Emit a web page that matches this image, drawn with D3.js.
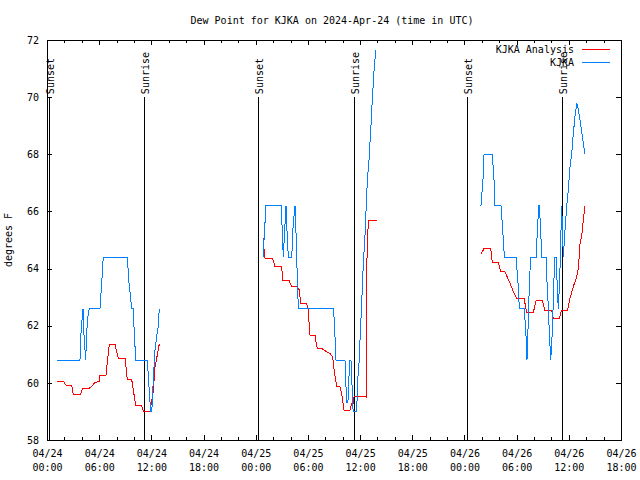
<!DOCTYPE html>
<html>
<head>
<meta charset="utf-8">
<script src="https://cdn.jsdelivr.net/npm/d3@7"></script>
<style>
  html, body { margin: 0; padding: 0; background: #fff; }
  svg { display: block; }
  text { font-family: "DejaVu Sans Mono", "Liberation Mono", monospace; font-size: 10px; fill: #000; }
</style>
</head>
<body>
<svg id="chart" width="640" height="480"></svg>
<script>
// ---- DATA (hours since 2024-04-24 00:00 UTC, dew point °F) ----
const titleText = "Dew Point for KJKA on 2024-Apr-24 (time in UTC)";
const yLabelText = "degrees F";
const seriesNames = ["KJKA Analysis", "KJKA"];
const yTickValues = [58, 60, 62, 64, 66, 68, 70, 72];
const xMajorHours = [0, 6, 12, 18, 24, 30, 36, 42, 48, 54, 60, 66];
const xMinorHours = [2, 4, 8, 10, 14, 16, 20, 22, 26, 28, 32, 34, 38, 40, 44, 46, 50, 52, 56, 58, 62, 64];
const sunEventNames = ["Sunset", "Sunrise", "Sunset", "Sunrise", "Sunset", "Sunrise"];
const sunEventHours = [0.26, 11.19, 24.3, 35.26, 48.29, 59.21];

const analysisDay1 = [[1.12,60.06],[1.87,60.06],[2.18,59.92],[2.84,59.92],[3.02,59.61],[3.87,59.61],[4.1,59.81],[4.86,59.81],[5.2,59.9],[5.52,60.02],[6.01,60.04],[6.09,60.27],[6.78,60.27],[7.0,60.9],[7.16,61.35],[7.82,61.35],[8.2,60.86],[8.97,60.86],[9.1,60.5],[9.23,60.12],[9.74,60.12],[9.9,59.8],[10.2,59.2],[10.89,59.2],[11.07,59.01],[11.84,59.01],[12.22,59.69],[12.42,60.57],[12.7,61.0],[12.91,61.36]];
const analysisDay2 = [[24.87,65.06],[24.95,64.7],[25.07,64.36],[25.84,64.36],[26.02,64.3],[26.22,64.07],[26.99,64.07],[27.1,63.6],[27.86,63.6],[27.94,63.5],[28.14,63.37],[28.71,63.37],[29.01,63.26],[29.17,62.78],[29.86,62.78],[30.01,62.6],[30.24,61.67],[30.82,61.67],[30.93,61.44],[31.08,61.2],[31.59,61.2],[32.08,61.1],[32.54,61.03],[32.85,60.9],[33.03,60.39],[33.31,59.87],[33.69,59.87],[33.88,59.63],[34.15,59.05],[34.84,59.05],[35.04,59.28],[35.22,59.28],[35.3,59.52],[36.56,59.52],[36.72,59.5],[36.76,64.07],[36.95,65.7],[37.91,65.7]];
const analysisDay3 = [[49.9,64.51],[50.25,64.7],[51.02,64.7],[51.2,64.22],[51.89,64.22],[52.17,63.89],[52.66,63.89],[53.24,63.48],[53.62,63.19],[54.0,62.96],[54.85,62.96],[55.16,62.46],[55.92,62.46],[56.23,62.88],[56.95,62.88],[57.26,62.52],[58.03,62.52],[58.22,62.27],[58.91,62.27],[59.18,62.55],[59.87,62.55],[60.14,62.96],[60.52,63.37],[60.91,63.72],[61.1,64.01],[61.29,64.88],[61.48,65.12],[61.67,65.7],[61.86,66.2]];

const obsDay1 = [[1.12,60.8],[3.79,60.8],[3.9,61.7],[4.05,62.3],[4.15,62.6],[4.25,61.7],[4.45,60.8],[4.55,61.7],[4.7,62.3],[4.86,62.6],[6.09,62.6],[6.29,63.5],[6.47,64.4],[9.23,64.4],[9.43,63.5],[9.74,62.6],[9.9,62.6],[10.05,61.7],[10.2,60.8],[11.53,60.8],[11.73,59.87],[11.92,59.0],[12.05,59.0],[12.22,60.1],[12.42,61.15],[12.61,61.62],[12.8,62.0],[12.91,62.6]];
const obsDay2 = [[24.87,64.4],[24.95,65.0],[25.18,66.2],[26.94,66.2],[27.05,65.3],[27.17,64.4],[27.48,66.2],[27.6,65.3],[27.75,64.4],[28.14,64.4],[28.3,65.5],[28.52,66.2],[28.6,65.58],[28.75,64.0],[28.9,62.6],[32.92,62.6],[33.0,62.3],[33.1,61.73],[33.23,60.8],[34.26,60.8],[34.45,59.3],[34.6,59.3],[34.8,60.8],[34.95,60.8],[35.2,59.0],[35.6,59.0],[35.75,60.2],[35.9,60.8],[35.99,61.5],[36.2,62.9],[36.37,64.18],[36.6,65.35],[36.76,66.63],[36.87,67.22],[37.06,67.92],[37.17,68.62],[37.29,69.2],[37.4,69.9],[37.52,70.48],[37.63,71.07],[37.83,71.65]];
const obsDay3 = [[49.9,66.2],[50.13,67.1],[50.25,68.0],[51.2,68.0],[51.4,67.1],[51.51,66.2],[52.2,66.2],[52.4,65.35],[52.59,64.4],[53.93,64.4],[54.16,63.48],[54.31,62.6],[54.85,62.6],[55.0,62.08],[55.12,61.38],[55.19,60.8],[55.27,61.38],[55.35,62.43],[55.51,63.77],[55.62,64.4],[56.23,64.4],[56.38,65.29],[56.54,66.2],[56.61,66.2],[56.77,65.29],[56.89,64.4],[57.38,64.4],[57.5,63.48],[57.65,62.6],[57.76,61.73],[57.92,60.8],[58.04,61.38],[58.15,62.2],[58.27,63.48],[58.41,64.4],[58.53,64.4],[58.79,62.6],[58.95,63.6],[59.18,66.2],[59.37,64.4],[59.56,65.35],[59.76,66.2],[59.94,66.75],[60.14,67.57],[60.33,68.0],[60.52,68.73],[60.71,69.32],[60.91,69.8],[61.1,69.55],[61.29,69.2],[61.48,68.79],[61.67,68.38],[61.86,68.0]];

const analysisSegments = [analysisDay1, analysisDay2, analysisDay3];
const obsSegments = [obsDay1, obsDay2, obsDay3];
const seriesColors = ["#ff0000", "#0080ff"];

// ---- CHART ----
(function () {
const startMs = Date.UTC(2024, 3, 24, 0, 0);
const toDate = h => new Date(startMs + h * 3600e3);

const L = 47, R = 621, T = 40, B = 440;
const svg = d3.select("#chart");

const x = d3.scaleUtc().domain([toDate(0), toDate(66)]).range([L, R]);
const y = d3.scaleLinear().domain([58, 72]).range([B, T]);

svg.append("text").attr("x", (L + R) / 2 - 2).attr("y", 24)
  .attr("text-anchor", "middle").text(titleText);

svg.append("text").attr("transform", "translate(12,240) rotate(-90)")
  .attr("text-anchor", "middle").text(yLabelText);

const crisp = g => g.attr("shape-rendering", "crispEdges");
const styleAxis = g => {
  g.select(".domain").remove();
  g.selectAll(".tick line").attr("stroke", "#000").call(crisp);
};

const fmtDay = d3.utcFormat("%m/%d"), fmtTime = d3.utcFormat("%H:%M");
const axB = svg.append("g").attr("transform", `translate(0,${B})`)
  .call(d3.axisBottom(x).tickValues(xMajorHours.map(toDate)).tickSize(-5).tickSizeOuter(0)
    .tickFormat(d => fmtDay(d) + "|" + fmtTime(d)));
styleAxis(axB);
axB.selectAll(".tick text").each(function () {
  const t = d3.select(this);
  const parts = t.text().split("|");
  t.text(null).attr("y", null).attr("dy", null).attr("fill", "#000")
    .style("font-family", "DejaVu Sans Mono").style("font-size", "10px");
  t.append("tspan").attr("x", 0).attr("y", 17).text(parts[0]);
  t.append("tspan").attr("x", 0).attr("y", 31).text(parts[1]);
});
const axBm = svg.append("g").attr("transform", `translate(0,${B})`)
  .call(d3.axisBottom(x).tickValues(xMinorHours.map(toDate)).tickSize(-3).tickSizeOuter(0).tickFormat(""));
styleAxis(axBm);

const axT = svg.append("g").attr("transform", `translate(0,${T})`)
  .call(d3.axisTop(x).tickValues(xMajorHours.map(toDate)).tickSize(-5).tickSizeOuter(0).tickFormat(""));
styleAxis(axT);
const axTm = svg.append("g").attr("transform", `translate(0,${T})`)
  .call(d3.axisTop(x).tickValues(xMinorHours.map(toDate)).tickSize(-3).tickSizeOuter(0).tickFormat(""));
styleAxis(axTm);

const axL = svg.append("g").attr("transform", `translate(${L},0)`)
  .call(d3.axisLeft(y).tickValues(yTickValues).tickSize(-5).tickSizeOuter(0).tickPadding(8).tickFormat(d3.format("d")));
styleAxis(axL);
axL.selectAll(".tick text").attr("fill", "#000")
  .style("font-family", "DejaVu Sans Mono").style("font-size", "10px");
const axR = svg.append("g").attr("transform", `translate(${R},0)`)
  .call(d3.axisRight(y).tickValues(yTickValues).tickSize(-5).tickSizeOuter(0).tickFormat(""));
styleAxis(axR);

svg.append("rect").attr("x", L).attr("y", T).attr("width", R - L).attr("height", B - T)
  .attr("fill", "none").attr("stroke", "#000").call(crisp);

const sun = svg.append("g");
sunEventHours.forEach((h, i) => {
  const xx = Math.round(x(toDate(h)));
  sun.append("line").attr("x1", xx).attr("x2", xx).attr("y1", y(58)).attr("y2", y(70))
    .attr("stroke", "#000").call(crisp);
  sun.append("text").attr("transform", `translate(${xx + 1},${y(70) - 3}) rotate(-90)`)
    .attr("dy", "0.35em").attr("text-anchor", "start").text(sunEventNames[i]);
});

const line = d3.line().x(d => x(toDate(d[0]))).y(d => y(d[1]));
const drawSegs = (segs, color) => {
  svg.append("g").selectAll("path").data(segs).join("path")
    .attr("d", line).attr("fill", "none").attr("stroke", color).attr("stroke-width", 1)
    .attr("shape-rendering", "crispEdges");
};
drawSegs(analysisSegments, seriesColors[0]);
drawSegs(obsSegments, seriesColors[1]);

const legend = svg.append("g");
seriesNames.forEach((name, i) => {
  const ly = 49 + i * 13;
  legend.append("text").attr("x", 574).attr("y", ly).attr("dy", "0.35em")
    .attr("text-anchor", "end").text(name);
  legend.append("line").attr("x1", 582).attr("x2", 610).attr("y1", ly).attr("y2", ly)
    .attr("stroke", seriesColors[i]).call(crisp);
});
})();
</script>
</body>
</html>
